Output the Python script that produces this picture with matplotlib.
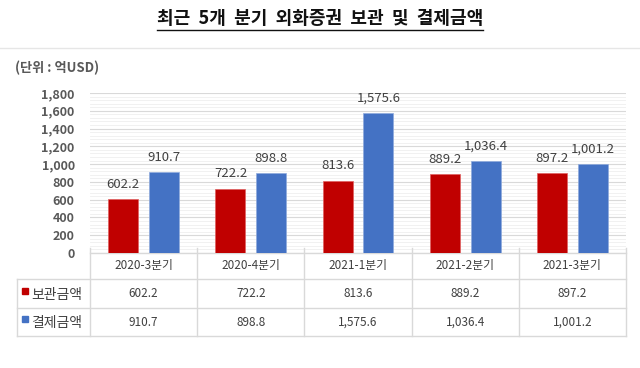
import matplotlib
matplotlib.use("Agg")
import matplotlib.pyplot as plt
import numpy as np
from matplotlib.ticker import MultipleLocator, FuncFormatter
from matplotlib.lines import Line2D
from matplotlib.patches import Rectangle

plt.rcParams['font.family'] = ['Noto Sans CJK KR', 'DejaVu Sans']

title = "최근 5개 분기 외화증권 보관 및 결제금액"
unit_label = "(단위 : 억USD)"
categories = ["2020-3분기", "2020-4분기", "2021-1분기", "2021-2분기", "2021-3분기"]
series_names = ["보관금액", "결제금액"]
custody = [602.2, 722.2, 813.6, 889.2, 897.2]
settlement = [910.7, 898.8, 1575.6, 1036.4, 1001.2]
colors = ["#C00000", "#4472C4"]

W, H = 640, 368
fig = plt.figure(figsize=(W / 100, H / 100), dpi=100)
fig.patch.set_facecolor("white")

ax_l, ax_r, ax_t, ax_b = 90, 626, 93, 253
ax = fig.add_axes([ax_l / W, 1 - ax_b / H, (ax_r - ax_l) / W, (ax_b - ax_t) / H])

x = np.arange(len(categories))
bw = 0.28
off = 0.19
ax.bar(x - off, custody, bw, color=colors[0], edgecolor="#E06060", linewidth=0.5, zorder=3)
ax.bar(x + off, settlement, bw, color=colors[1], edgecolor="#8FAADC", linewidth=0.5, zorder=3)

fmt = lambda v: f"{v:,.1f}"
for xi, v in zip(x - off, custody):
    ax.annotate(fmt(v), (xi, v), xytext=(0, 6), textcoords="offset points",
                ha="center", va="bottom", fontsize=9.5, color="#404040", fontweight="medium")
for xi, v in zip(x + off, settlement):
    ax.annotate(fmt(v), (xi, v), xytext=(0, 6), textcoords="offset points",
                ha="center", va="bottom", fontsize=9.5, color="#404040", fontweight="medium")

ax.set_xlim(-0.5, len(categories) - 0.5)
ax.set_ylim(0, 1800)
ax.yaxis.set_major_locator(MultipleLocator(200))
ax.yaxis.set_minor_locator(MultipleLocator(40))
ax.yaxis.set_major_formatter(FuncFormatter(lambda v, p: f"{int(v):,}"))
ax.grid(axis="y", which="major", color="#D9D9D9", linewidth=0.8, zorder=0)
ax.grid(axis="y", which="minor", color="#EFEFEF", linewidth=0.6, zorder=0)
ax.set_axisbelow(True)
for s in ax.spines.values():
    s.set_visible(False)
ax.tick_params(axis="y", which="both", length=0, pad=11, labelsize=9, labelcolor="#595959")
for lbl in ax.get_yticklabels():
    lbl.set_fontweight("bold")
ax.set_xticks([])

# Data table below the plot
tr = ax.get_xaxis_transform()
header_h = (279 - 253) / (ax_b - ax_t)
row_h = (308 - 279) / (ax_b - ax_t)
row2_h = (336 - 308) / (ax_b - ax_t)
y_top = 0.0
y1 = -header_h
y2 = y1 - row_h
y3 = y2 - row2_h
line_kw = dict(color="#D9D9D9", linewidth=1.0, clip_on=False, transform=tr)
x_edges = np.arange(len(categories) + 1) - 0.5
ax.add_line(Line2D([x_edges[0], x_edges[-1]], [y_top, y_top], **line_kw))
label_left = -0.5 - (ax_l - 17) / ((ax_r - ax_l) / len(categories))
for yy in (y1, y2, y3):
    ax.add_line(Line2D([label_left, x_edges[-1]], [yy, yy], **line_kw))
for xe in x_edges:
    ax.add_line(Line2D([xe, xe], [y3, y_top + 0.03], **line_kw))
ax.add_line(Line2D([label_left, label_left], [y3, y1], **line_kw))

for xi, c in zip(x, categories):
    ax.text(xi, (y_top + y1) / 2, c, transform=tr, ha="center", va="center",
            fontsize=8.5, color="#404040", fontweight="medium", clip_on=False)
for xi, v in zip(x, custody):
    ax.text(xi, (y1 + y2) / 2, fmt(v), transform=tr, ha="center", va="center",
            fontsize=8.5, color="#404040", fontweight="medium", clip_on=False)
for xi, v in zip(x, settlement):
    ax.text(xi, (y2 + y3) / 2, fmt(v), transform=tr, ha="center", va="center",
            fontsize=8.5, color="#404040", fontweight="medium", clip_on=False)

for name, col, yc in zip(series_names, colors, [(y1 + y2) / 2, (y2 + y3) / 2]):
    fy = 1 - (ax_b - yc * (ax_b - ax_t)) / H
    fig.patches.append(Rectangle((22 / W, fy - 0.0 / H), 6 / W, 6 / H, transform=fig.transFigure,
                                 color=col, figure=fig))
    fig.text(31 / W, fy - 1 / H, name, ha="left", va="center", fontsize=10,
             color="#404040", fontweight="medium")

# title with underline
t = fig.text(0.5, 1 - 18 / H, title.replace(" ", "  "), ha="center", va="center", fontsize=13,
             fontweight="bold", color="#111111")
fig.canvas.draw()
bb = t.get_window_extent()
uy = 1 - 29.5 / H
fig.add_artist(Line2D([bb.x0 / W, bb.x1 / W], [uy, uy], color="#111111", linewidth=1.0,
                      transform=fig.transFigure))
fig.add_artist(Line2D([0, 1], [1 - 48 / H, 1 - 48 / H], color="#E6E6E6", linewidth=1.0,
                      transform=fig.transFigure))

fig.text(15 / W, 1 - 68 / H, unit_label, ha="left", va="center", fontsize=9.5,
         fontweight="bold", color="#595959")

fig.savefig("out.png", dpi=100, facecolor="white")
